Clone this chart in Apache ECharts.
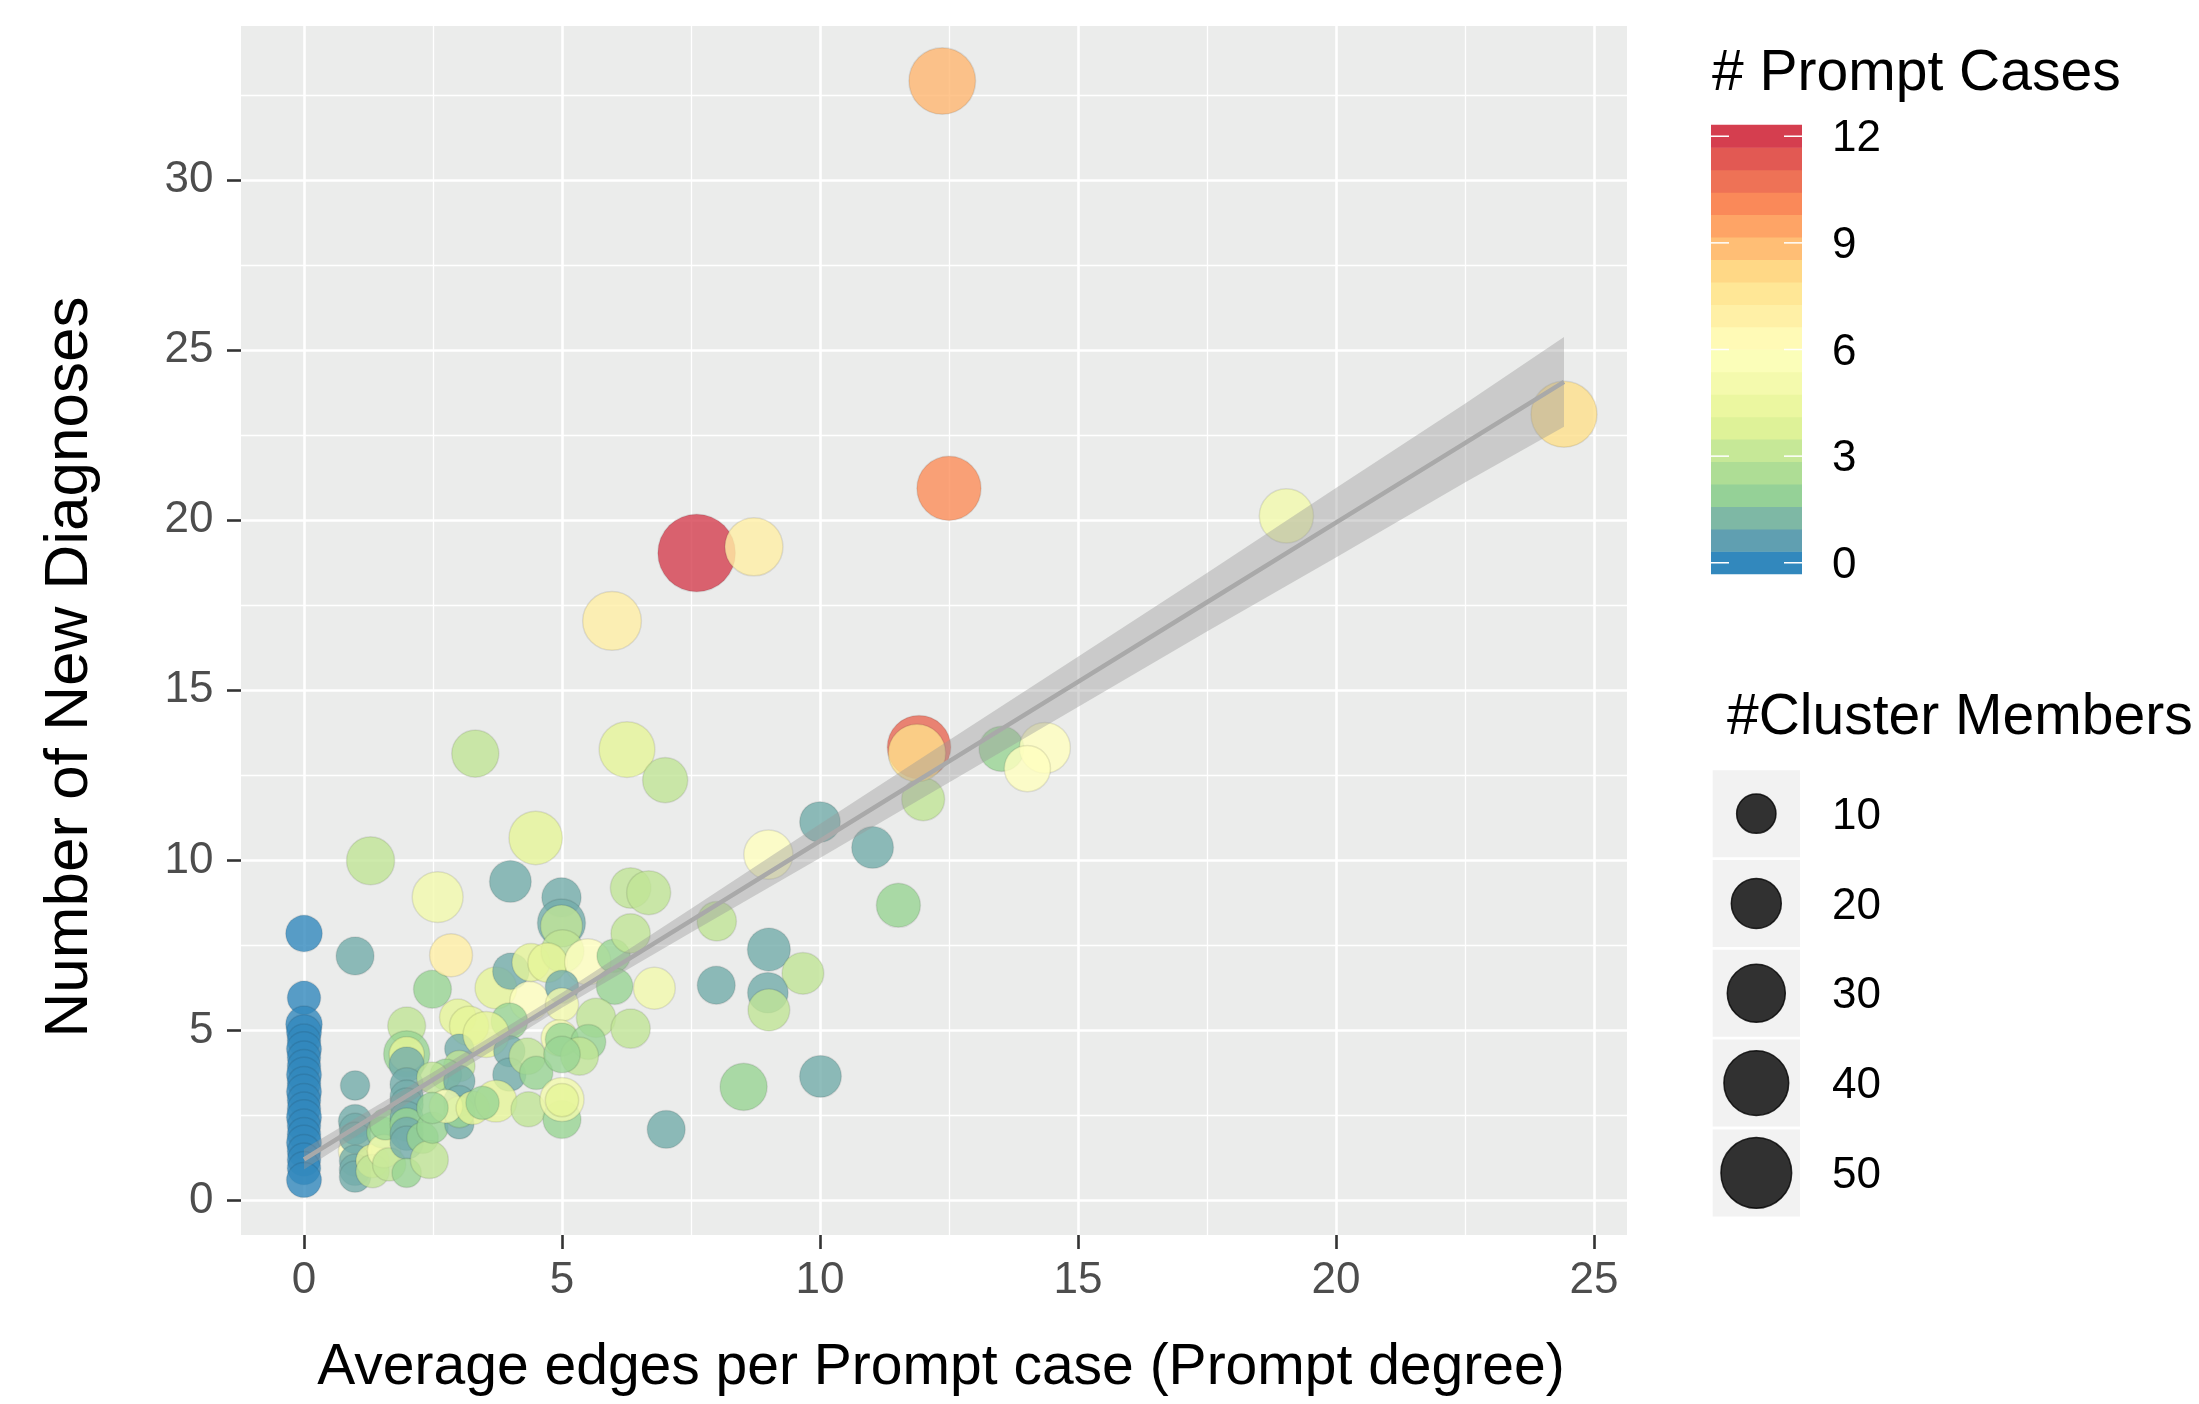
<!DOCTYPE html>
<html><head><meta charset="utf-8">
<script src="https://cdn.jsdelivr.net/npm/echarts@6/dist/echarts.min.js"></script>
<style>html,body{margin:0;padding:0;background:#fff}#c{width:2199px;height:1404px}</style>
</head><body><div id="c"></div>
<script>
// ---------- data ----------
const degree = [
 0,0,0,0,0,0,0,0,0,0,0,0,0,0,0,0,0,0,0,0,0,
 0.99,0.99,0.99,0.99,0.99,0.99,0.99,0.99,0.99,
 1.29,1.33,1.33,1.52,1.55,1.65,1.58,
 1.99,1.99,1.99,1.99,1.99,1.99,1.99,1.99,1.99,1.99,1.99,1.99,2.3,2.43,2.49,
 2.49,2.85,2.59,2.98,3.2,3.01,3.01,2.75,2.49,3.01,3.01,3.01,3.01,2.75,2.49,3.27,3.32,
 3.72,4.01,4.37,3.98,3.53,3.98,3.98,4.33,4.5,3.72,3.46,4.35,4.4,4.49,4.0,
 4.99,4.99,4.99,5.01,4.72,5.5,6.0,6.02,6.79,5.0,5.0,5.66,6.33,4.95,5.0,5.51,5.34,5.0,5.0,5.0,5.0,6.33,6.33,6.68,
 5.97,6.26,7.0,7.61,8.72,7.02,8.0,9.01,9.67,7.99,8.99,9.01,8.52,9.0,10.0,10.01,
 11.02,11.52,12.0,11.92,11.88,13.52,14.36,14.02,12.37,12.5,19.04,24.42
];
const diagnoses = [
 7.85,5.96,5.18,4.95,4.7,4.45,4.2,3.95,3.7,3.45,3.2,2.95,2.7,2.45,2.2,1.95,1.7,1.45,1.2,0.95,0.6,
 1.45,7.19,3.38,2.33,2.1,1.84,1.17,0.9,0.7,
 9.99,1.16,0.86,2.0,1.45,1.06,2.24,
 5.13,4.31,4.3,4.0,3.41,3.05,2.82,2.43,2.23,1.96,1.7,0.81,1.84,1.2,2.14,
 6.21,7.21,8.92,5.39,5.13,4.46,3.95,3.7,3.61,3.51,2.92,2.24,2.6,2.77,2.72,2.72,13.14,
 6.25,6.74,5.86,5.27,4.88,4.39,3.7,4.24,3.75,2.92,2.87,2.68,7.0,10.66,9.38,
 8.91,8.16,8.07,7.33,6.99,7.02,7.19,6.3,6.24,6.28,5.76,5.37,5.05,4.78,4.73,4.66,4.24,4.29,2.38,2.97,2.95,7.85,9.19,9.05,
 17.04,13.26,12.36,19.04,19.22,2.09,8.21,7.38,6.68,6.33,6.11,5.6,3.34,10.17,11.13,3.65,
 10.38,8.68,11.8,13.33,13.16,13.28,13.31,12.7,32.92,20.94,20.13,23.12
];
const promptCases = [
 0,0,0,0,0,0,0,0,0,0,0,0,0,0,0,0,0,0,0,0,0,
 6,1,1,1,1,1,1,1,1,
 3,4,3,2,5,3,2,
 3,2,4,1,1,1,1,1,2,1,1,2,2,3,2,
 2,7,5,4,4,1,3,2,3,1,1,1,2,5,2,4,3,
 4,1,6,2,4,1,1,3,2,4,2,3,4,4,1,
 1,1,3,3,4,6,2,2,5,1,5,3,3,5,2,2,3,2,2,5,4,3,3,3,
 7,4,3,12,7,1,3,1,3,1,1,3,2,6,1,1,
 1,2,3,11,8,2,6,6,9,10,5,8
];
const members = [
 8,6,8,7,6,7,6,6,7,6,7,6,6,7,6,6,7,6,6,6,7,
 6,9,4,6,5,5,5,5,5,
 18,6,6,5,6,6,5,
 9,16,7,7,6,6,6,6,6,6,6,4,5,9,5,
 9,13,21,8,10,4,5,5,5,5,5,4,5,6,5,6,17,
 12,8,10,8,16,5,6,8,6,12,6,7,9,24,12,
 10,18,12,13,10,16,6,8,12,6,6,10,10,8,6,7,9,8,9,14,6,10,11,14,
 31,27,15,63,30,9,10,13,12,9,11,12,17,19,11,12,
 12,14,13,38,29,15,21,16,43,39,25,42
];
// linear smooth (line and 95% band)
const smoothX     = [0, 2.5, 5, 7.5, 10, 12.5, 15, 17.5, 20, 22.5, 24.42];
const smoothFit   = [1.21, 3.55, 5.89, 8.23, 10.57, 12.91, 15.25, 17.59, 19.93, 22.27, 24.07];
const smoothLower = [0.91, 3.33, 5.67, 7.88, 10.07, 12.29, 14.51, 16.73, 18.91, 21.11, 22.75];
const smoothUpper = [1.51, 3.77, 6.11, 8.58, 11.07, 13.53, 15.99, 18.45, 20.95, 23.43, 25.39];

const xTicks = [0, 5, 10, 15, 20, 25];
const yTicks = [0, 5, 10, 15, 20, 25, 30];
const xMinor = [2.5, 7.5, 12.5, 17.5, 22.5];
const yMinor = [2.5, 7.5, 12.5, 17.5, 22.5, 27.5, 32.5];
const colorTicks = [0, 3, 6, 9, 12];
const sizeBreaks = [10, 20, 30, 40, 50];
const spectral = ['#3288BD','#99D594','#E6F598','#FFFFBF','#FEE08B','#FC8D59','#D53E4F'];

// ---------- helpers ----------
const FONT = '"Liberation Sans", Arial, Helvetica, sans-serif';
function pointSize(m) { return 15.75 + 7.85 * Math.sqrt(Math.max(m - 1, 0)); }

// palette refined in CIELAB (as ggplot's gradient does), used as colour stops
function hexToLab(hex) {
  const v = [1, 3, 5].map(i => parseInt(hex.substr(i, 2), 16) / 255)
    .map(c => c <= 0.04045 ? c / 12.92 : Math.pow((c + 0.055) / 1.055, 2.4));
  const X = (0.4124 * v[0] + 0.3576 * v[1] + 0.1805 * v[2]) / 0.95047;
  const Y = (0.2126 * v[0] + 0.7152 * v[1] + 0.0722 * v[2]);
  const Z = (0.0193 * v[0] + 0.1192 * v[1] + 0.9505 * v[2]) / 1.08883;
  const f = t => t > 0.008856 ? Math.cbrt(t) : 7.787 * t + 16 / 116;
  return [116 * f(Y) - 16, 500 * (f(X) - f(Y)), 200 * (f(Y) - f(Z))];
}
function labToHex(L) {
  const fy = (L[0] + 16) / 116, fx = fy + L[1] / 500, fz = fy - L[2] / 200;
  const fi = t => t * t * t > 0.008856 ? t * t * t : (t - 16 / 116) / 7.787;
  const X = fi(fx) * 0.95047, Y = fi(fy), Z = fi(fz) * 1.08883;
  const lin = [
    3.2406 * X - 1.5372 * Y - 0.4986 * Z,
    -0.9689 * X + 1.8758 * Y + 0.0415 * Z,
    0.0557 * X - 0.2040 * Y + 1.0570 * Z
  ];
  return '#' + lin.map(c => {
    c = c <= 0.0031308 ? 12.92 * c : 1.055 * Math.pow(Math.max(c, 0), 1 / 2.4) - 0.055;
    const k = Math.round(Math.min(1, Math.max(0, c)) * 255);
    return (k < 16 ? '0' : '') + k.toString(16);
  }).join('');
}
const labStops = spectral.map(hexToLab);
const fineStops = [];
const STEPS = 48;
for (let k = 0; k <= STEPS; k++) {
  const p = k / STEPS * (labStops.length - 1);
  const i = Math.min(Math.floor(p), labStops.length - 2), t = p - i;
  fineStops.push(labToHex(labStops[i].map((a, j) => a + (labStops[i + 1][j] - a) * t)));
}

const n = Math.min(degree.length, diagnoses.length, promptCases.length, members.length);
const points = [];
for (let i = 0; i < n; i++) points.push([degree[i], diagnoses[i], promptCases[i], members[i]]);

const xs = degree.slice(0, n), ys = diagnoses.slice(0, n);
const xMinD = Math.min(...xs), xMaxD = Math.max(...xs);
const yMinD = Math.min(...ys), yMaxD = Math.max(...ys);
const xMin = xMinD - 0.05 * (xMaxD - xMinD), xMax = xMaxD + 0.05 * (xMaxD - xMinD);
const yMin = yMinD - 0.05 * (yMaxD - yMinD), yMax = yMaxD + 0.05 * (yMaxD - yMinD);

// layout
const G = { left: 241, top: 26, width: 1386, height: 1209 };
const bar = { x: 1711, y: 125, w: 91, h: 449 };

const graphics = [];
// axis titles
graphics.push({ type: 'text', x: 941, y: 1368, style: { text: 'Average edges per Prompt case (Prompt degree)', fontSize: 57, fontFamily: FONT, fill: '#000', align: 'center', verticalAlign: 'middle' } });
graphics.push({ type: 'text', x: 70, y: 667, rotation: Math.PI / 2, style: { text: 'Number of New Diagnoses', fontSize: 62, fontFamily: FONT, fill: '#000', align: 'center', verticalAlign: 'middle' } });
// colour legend (stepped bar of 20 bins, like ggplot's colourbar)
graphics.push({ type: 'text', x: 1712, y: 74, style: { text: '# Prompt Cases', fontSize: 57, fontFamily: FONT, fill: '#000', align: 'left', verticalAlign: 'middle' } });
const NBIN = 20, binH = bar.h / NBIN;
for (let k = 0; k < NBIN; k++) {
  const col = echarts.color.lerp(k / (NBIN - 1), fineStops);
  const top = bar.y + bar.h - (k + 1) * binH;
  graphics.push({ type: 'rect', z: 50, shape: { x: bar.x, y: top - 0.3, width: bar.w, height: binH + 0.6 }, style: { fill: col } });
}
colorTicks.forEach(v => {
  const ty = bar.y + bar.h * (1 - (v / 12 * 19 + 0.5) / 20);
  graphics.push({ type: 'text', x: 1832, y: ty + 3, style: { text: String(v), fontSize: 44, fontFamily: FONT, fill: '#000', align: 'left', verticalAlign: 'middle' } });
  graphics.push({ type: 'line', z: 100, shape: { x1: bar.x, y1: ty, x2: bar.x + 18, y2: ty }, style: { stroke: '#fff', lineWidth: 1.5 } });
  graphics.push({ type: 'line', z: 100, shape: { x1: bar.x + bar.w - 18, y1: ty, x2: bar.x + bar.w, y2: ty }, style: { stroke: '#fff', lineWidth: 1.5 } });
});
// size legend
graphics.push({ type: 'text', x: 1727, y: 718, style: { text: '#Cluster Members', fontSize: 57, fontFamily: FONT, fill: '#000', align: 'left', verticalAlign: 'middle' } });
sizeBreaks.forEach((v, i) => {
  const top = 770.2 + i * 89.8, cy = top + 43.5, cx = 1756.3;
  graphics.push({ type: 'rect', shape: { x: 1712.7, y: top, width: 87.3, height: 87 }, style: { fill: '#F2F2F2' } });
  graphics.push({ type: 'circle', shape: { cx: cx, cy: cy, r: pointSize(v) / 2 }, style: { fill: 'rgba(0,0,0,0.8)', stroke: 'rgba(0,0,0,0.8)', lineWidth: 1.5 } });
  graphics.push({ type: 'text', x: 1832, y: cy + 3, style: { text: String(v), fontSize: 44, fontFamily: FONT, fill: '#000', align: 'left', verticalAlign: 'middle' } });
});

const axisCommon = (min, max, ticks, labelMargin) => ({
  type: 'value', min: min, max: max, gridIndex: 0,
  axisLine: { show: false, onZero: false },
  axisTick: { show: true, length: 14, inside: false, customValues: ticks, lineStyle: { color: '#333333', width: 2.6 } },
  axisLabel: { show: true, customValues: ticks, fontSize: 44, fontFamily: FONT, color: '#4D4D4D', margin: labelMargin },
  splitLine: { show: true, lineStyle: { color: '#FFFFFF', width: 2.6 } },
  minorTick: { show: false }, minorSplitLine: { show: false }
});
const axisMinor = (min, max, ticks, pos) => ({
  type: 'value', min: min, max: max, gridIndex: 0, position: pos,
  axisLine: { show: false, onZero: false },
  axisTick: { show: false, customValues: ticks },
  axisLabel: { show: false, customValues: ticks },
  splitLine: { show: true, lineStyle: { color: '#FFFFFF', width: 1.3 } }
});

const option = {
  animation: false,
  backgroundColor: '#FFFFFF',
  grid: { left: G.left, top: G.top, width: G.width, height: G.height, show: true, backgroundColor: '#EBECEB', borderWidth: 0, containLabel: false },
  xAxis: [ axisCommon(xMin, xMax, xTicks, 24), axisMinor(xMin, xMax, xMinor, 'top') ],
  yAxis: [ axisCommon(yMin, yMax, yTicks, 27.5), axisMinor(yMin, yMax, yMinor, 'right') ],
  visualMap: [{
    type: 'continuous', show: false, min: 0, max: 12, dimension: 2, seriesIndex: 0,
    inRange: { color: fineStops, opacity: 0.8 }
  }],
  graphic: { elements: graphics },
  series: [
    {
      type: 'scatter', xAxisIndex: 0, yAxisIndex: 0, data: points,
      encode: { x: 0, y: 1 },
      symbol: 'circle',
      symbolSize: function (val) { return pointSize(val[3]); },
      itemStyle: { borderColor: 'rgba(20,20,20,0.12)', borderWidth: 1.5 },
      emphasis: { disabled: true }, silent: true, z: 2
    },
    {
      type: 'custom', coordinateSystem: 'cartesian2d', xAxisIndex: 0, yAxisIndex: 0,
      data: smoothX.map((x, i) => [x, smoothLower[i], smoothUpper[i]]),
      encode: { x: 0, y: [1, 2] },
      renderItem: function (params, api) {
        if (params.dataIndex !== 0) return null;
        const pts = [];
        for (let i = 0; i < smoothX.length; i++) pts.push(api.coord([smoothX[i], smoothUpper[i]]));
        for (let i = smoothX.length - 1; i >= 0; i--) pts.push(api.coord([smoothX[i], smoothLower[i]]));
        return { type: 'polygon', shape: { points: pts }, style: { fill: 'rgba(153,153,153,0.4)', stroke: null } };
      },
      silent: true, z: 3
    },
    {
      type: 'line', xAxisIndex: 0, yAxisIndex: 0,
      data: smoothX.map((x, i) => [x, smoothFit[i]]),
      showSymbol: false, symbol: 'none',
      lineStyle: { color: '#A9A9A9', width: 4.5 },
      emphasis: { disabled: true }, silent: true, z: 4
    }
  ]
};

const chart = echarts.init(document.getElementById('c'), null, { renderer: 'canvas', width: 2199, height: 1404 });
chart.setOption(option);
</script></body></html>
